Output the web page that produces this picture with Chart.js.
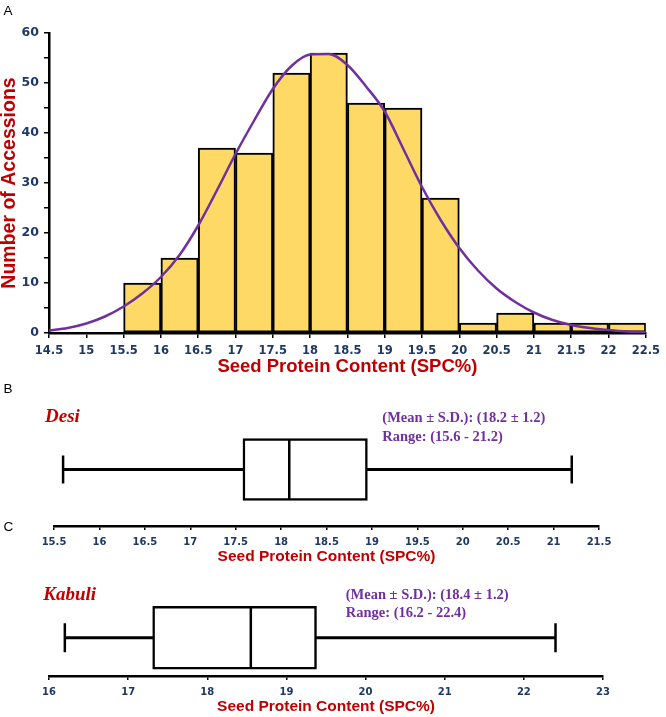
<!DOCTYPE html>
<html>
<head>
<meta charset="utf-8">
<script src="https://cdn.jsdelivr.net/npm/chart.js@4.4.1/dist/chart.umd.min.js"></script>
<style>
  html, body { margin: 0; padding: 0; background: #fff; }
  #page { position: relative; width: 666px; height: 717px; overflow: hidden; background: #fff; }
  canvas { position: absolute; left: 0; }
</style>
</head>
<body>
<div id="page">
  <canvas id="chart-hist" width="666" height="378" style="top:0;width:666px;height:378px"></canvas>
  <canvas id="chart-desi" width="666" height="186" style="top:380px;width:666px;height:186px"></canvas>
  <canvas id="chart-kabuli" width="666" height="150" style="top:566px;width:666px;height:150px"></canvas>
</div>
<script>
// Histograma de contenido de proteína (panel A)
const binMid = [14.75, 15.25, 15.75, 16.25, 16.75, 17.25, 17.75, 18.25, 18.75, 19.25, 19.75, 20.25, 20.75, 21.25, 21.75, 22.25];
const binCount = [0, 0, 10, 15, 37, 36, 52, 56, 46, 45, 27, 2, 4, 2, 2, 2];

// Curva normal ajustada
const curveX = [14.5, 14.75, 15, 15.25, 15.5, 15.75, 16, 16.25, 16.5, 16.75, 17, 17.25, 17.5, 17.75, 18, 18.25,
                18.5, 18.75, 19, 19.25, 19.5, 19.75, 20, 20.25, 20.5, 20.75, 21, 21.25, 21.5, 21.75, 22, 22.25, 22.5];
const curveY = [0.5, 1.0, 1.9, 3.3, 5.3, 7.9, 11.2, 15.6, 21.5, 28.5, 35.8, 42.5, 48.8, 53.4, 55.7, 55.8,
                53.6, 49.3, 44.3, 36.8, 29.2, 22.6, 17.0, 12.5, 8.9, 6.2, 4.1, 2.6, 1.6, 1.0, 0.6, 0.3, 0.15];

const histTicks = [14.5, 15, 15.5, 16, 16.5, 17, 17.5, 18, 18.5, 19, 19.5, 20, 20.5, 21, 21.5, 22, 22.5];
const countTicks = [0, 5, 10, 15, 20, 25, 30, 35, 40, 45, 50, 55, 60];

// Diagramas de caja: [mín, Q1, mediana, Q3, máx]
const desiBox = [15.6, 17.58, 18.09, 18.95, 21.2];
const desiMeanSd = [18.2, 1.2];
const desiTicks = [15.5, 16, 16.5, 17, 17.5, 18, 18.5, 19, 19.5, 20, 20.5, 21, 21.5];

const kabuliBox = [16.2, 17.31, 18.55, 19.38, 22.4];
const kabuliMeanSd = [18.4, 1.2];
const kabuliTicks = [16, 17, 18, 19, 20, 21, 22, 23];

const NAVY = '#1f3864';
const RED = '#c00000';
const PURPLE = '#7030a0';
const BAR = '#ffd966';
const TICK_FONT = 'DejaVu Sans';
const TITLE_FONT = 'Liberation Sans';

// Texto libre sobre el canvas (letras de panel, nombres, estadísticos)
function textPlugin(items) {
    return {
        id: 'panelText',
        afterDraw(chart) {
            const ctx = chart.ctx;
            items.forEach(t => {
                ctx.save();
                ctx.font = t.font;
                ctx.fillStyle = t.color;
                ctx.textBaseline = 'alphabetic';
                ctx.textAlign = 'left';
                ctx.fillText(t.text, t.x, t.y);
                ctx.restore();
            });
        }
    };
}

const f1 = v => v.toFixed(1);

new Chart(document.getElementById('chart-hist'), {
    type: 'bar',
    data: {
        datasets: [
            {
                type: 'line',
                data: curveX.map((x, i) => ({ x, y: curveY[i] })),
                borderColor: PURPLE,
                borderWidth: 2.5,
                pointRadius: 0,
                cubicInterpolationMode: 'monotone',
                fill: false,
                order: 0
            },
            {
                type: 'bar',
                data: binMid.map((x, i) => ({ x, y: binCount[i] })),
                backgroundColor: BAR,
                borderColor: '#000',
                borderWidth: 2,
                borderSkipped: false,
                barPercentage: 1,
                categoryPercentage: 1,
                order: 1
            }
        ]
    },
    options: {
        responsive: false,
        animation: false,
        events: [],
        layout: { padding: { left: 0, top: 33, right: 15, bottom: 0 } },
        plugins: { legend: { display: false }, tooltip: { enabled: false } },
        scales: {
            x: {
                type: 'linear',
                min: 14.5,
                max: 22.5,
                offset: false,
                afterBuildTicks: s => { s.ticks = histTicks.map(v => ({ value: v })); },
                afterFit: s => { s.height = 45; },
                grid: { offset: false, drawOnChartArea: false, tickLength: 5, color: '#000', lineWidth: 1.5 },
                border: { color: '#000', width: 2.5 },
                ticks: {
                    autoSkip: false, maxRotation: 0, padding: 6, color: NAVY,
                    font: { family: TICK_FONT, size: 11.5, weight: 'bold', lineHeight: 1.2 },
                    callback: v => String(v)
                },
                title: {
                    display: true, text: 'Seed Protein Content (SPC%)', color: RED, padding: 0,
                    font: { family: TITLE_FONT, size: 18.5, weight: 'bold', lineHeight: 1.2 }
                }
            },
            y: {
                min: 0,
                max: 60,
                afterBuildTicks: s => { s.ticks = countTicks.map(v => ({ value: v })); },
                afterFit: s => { s.width = 49; },
                grid: { drawOnChartArea: false, tickLength: 5, color: '#000', lineWidth: 1.5 },
                border: { color: '#000', width: 2.5 },
                ticks: {
                    autoSkip: false, padding: 5, color: NAVY,
                    font: { family: TICK_FONT, size: 12.5, weight: 'bold' },
                    callback: v => (v % 10 === 0 ? String(v) : '')
                },
                title: {
                    display: true, text: 'Number of Accessions', color: RED, padding: 0,
                    font: { family: TITLE_FONT, size: 19.5, weight: 'bold', lineHeight: 1 }
                }
            }
        }
    },
    plugins: [textPlugin([
        { text: 'A', x: 3.5, y: 15, font: '13.5px "Liberation Sans"', color: '#000' }
    ])]
});

function boxChart(id, name, box, ticks, cfg, extraText) {
    return new Chart(document.getElementById(id), {
        type: 'bar',
        data: {
            labels: [name],
            datasets: [
                {
                    type: 'line', data: [{ x: box[2], y: name }], showLine: false,
                    pointStyle: 'line', pointRotation: 90, pointRadius: cfg.boxHeight / 2 - 0.5,
                    pointBorderWidth: 2.5, pointBorderColor: '#000', clip: false, order: 0
                },
                {
                    type: 'line', data: [{ x: box[0], y: name }, { x: box[4], y: name }], showLine: false,
                    pointStyle: 'line', pointRotation: 90, pointRadius: cfg.capHalf,
                    pointBorderWidth: 2.5, pointBorderColor: '#000', clip: false, order: 0
                },
                {
                    type: 'bar', data: [[box[1], box[3]]], backgroundColor: '#fff',
                    borderColor: '#000', borderWidth: 2.5, borderSkipped: false,
                    barThickness: cfg.boxHeight, grouped: false, order: 1
                },
                {
                    type: 'bar', data: [[box[0], box[4]]], backgroundColor: '#000',
                    borderWidth: 0, barThickness: 2.5, grouped: false, order: 2
                }
            ]
        },
        options: {
            indexAxis: 'y',
            responsive: false,
            animation: false,
            events: [],
            layout: { padding: cfg.padding },
            plugins: { legend: { display: false }, tooltip: { enabled: false } },
            scales: {
                x: {
                    type: 'linear',
                    min: ticks[0],
                    max: ticks[ticks.length - 1],
                    afterBuildTicks: s => { s.ticks = ticks.map(v => ({ value: v })); },
                    afterFit: s => { s.height = 40; },
                    grid: { drawOnChartArea: false, tickLength: 4, color: '#000', lineWidth: 1.5 },
                    border: { color: '#000', width: 2.5 },
                    ticks: {
                        autoSkip: false, maxRotation: 0, padding: 6, color: NAVY,
                        font: { family: TICK_FONT, size: 10, weight: 'bold', lineHeight: 1.2 },
                        callback: v => String(v)
                    },
                    title: {
                        display: true, text: 'Seed Protein Content (SPC%)', color: RED, padding: 0,
                        font: { family: TITLE_FONT, size: 15.5, weight: 'bold', lineHeight: 1.2 }
                    }
                },
                y: { display: false }
            }
        },
        plugins: [textPlugin(extraText)]
    });
}

const statFont = 'bold 14.5px "Liberation Serif"';
const nameFont = 'italic bold 19px "Liberation Serif"';

boxChart('chart-desi', 'Desi', desiBox, desiTicks,
    { boxHeight: 62, capHalf: 14, padding: { left: 54, right: 67, top: 5, bottom: 0 } },
    [
        { text: 'B', x: 3.5, y: 13.3, font: '13.5px "Liberation Sans"', color: '#000' },
        { text: 'C', x: 3.5, y: 150.7, font: '13.5px "Liberation Sans"', color: '#000' },
        { text: 'Desi', x: 45, y: 41.7, font: nameFont, color: RED },
        { text: '(Mean \u00b1 S.D.): (' + f1(desiMeanSd[0]) + ' \u00b1 ' + f1(desiMeanSd[1]) + ')', x: 382.3, y: 42, font: statFont, color: PURPLE },
        { text: 'Range: (' + f1(desiBox[0]) + ' - ' + f1(desiBox[4]) + ')', x: 382.3, y: 60.5, font: statFont, color: PURPLE }
    ]);

boxChart('chart-kabuli', 'Kabuli', kabuliBox, kabuliTicks,
    { boxHeight: 63, capHalf: 14.5, padding: { left: 49, right: 63, top: 21, bottom: 0 } },
    [
        { text: 'Kabuli', x: 43.3, y: 34, font: nameFont, color: RED },
        { text: '(Mean \u00b1 S.D.): (' + f1(kabuliMeanSd[0]) + ' \u00b1 ' + f1(kabuliMeanSd[1]) + ')', x: 345.7, y: 32.5, font: statFont, color: PURPLE },
        { text: 'Range: (' + f1(kabuliBox[0]) + ' - ' + f1(kabuliBox[4]) + ')', x: 345.7, y: 50.5, font: statFont, color: PURPLE }
    ]);
</script>
</body>
</html>
